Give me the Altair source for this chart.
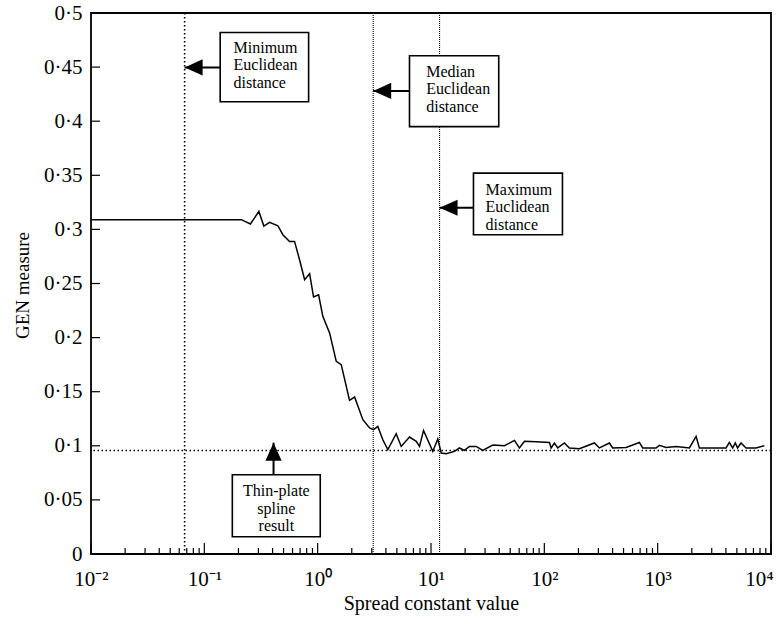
import altair as alt
import pandas as pd

# ---- data ----
spread = [0.01, 0.212, 0.255, 0.303, 0.335, 0.377, 0.446, 0.493, 0.565, 0.625,
          0.692, 0.767, 0.849, 0.920, 1.019, 1.111, 1.274, 1.459, 1.614, 1.911,
          2.117, 2.505, 2.871, 3.112, 3.396, 3.757, 4.16, 4.93, 5.46, 6.46,
          7.41, 7.92, 8.59, 10.37, 11.48, 12.30, 13.61, 16.11, 17.83, 19.73,
          21.86, 25.05, 28.62, 35.1, 44.5, 54.5, 60.3, 66.8, 84.7, 110.9,
          114.8, 122.7, 131.2, 150.3, 166.3, 203.7, 276.5, 306.2, 375.1, 401.0,
          526.3, 689.8, 737.9, 968.3, 1035, 1186, 1452, 1905, 2183, 2333,
          4010, 4289, 4585, 4845, 5070, 5433, 6026, 7379, 8730]
gen = [0.309, 0.309, 0.305, 0.3166, 0.3031, 0.3065, 0.3034, 0.2951, 0.2889, 0.2889,
       0.2720, 0.2535, 0.2591, 0.2375, 0.2396, 0.2196, 0.2043, 0.1780, 0.1750, 0.1420,
       0.1451, 0.1241, 0.1165, 0.1149, 0.1179, 0.1056, 0.0964, 0.1112, 0.0994, 0.1081,
       0.1041, 0.0994, 0.1142, 0.0948, 0.1063, 0.0933, 0.0927, 0.0948, 0.0980, 0.0957,
       0.0994, 0.0994, 0.0957, 0.1007, 0.1001, 0.1050, 0.0980, 0.1041, 0.1038, 0.1031,
       0.0980, 0.1026, 0.0980, 0.1026, 0.0980, 0.0973, 0.1026, 0.0980, 0.1026, 0.0980,
       0.0985, 0.1031, 0.0980, 0.0980, 0.1004, 0.0985, 0.0994, 0.0980, 0.1087, 0.0980,
       0.0980, 0.1031, 0.0980, 0.1026, 0.0980, 0.1026, 0.0980, 0.0980, 0.1001]

thin_plate = 0.0957
min_dist = 0.067
median_dist = 3.09
max_dist = 11.9

y_ticks = [0, 0.05, 0.1, 0.15, 0.2, 0.25, 0.3, 0.35, 0.4, 0.45, 0.5]
x_major = [0.01, 0.1, 1, 10, 100, 1000, 10000]
x_labels = ["10⁻²", "10⁻¹", "10⁰", "10¹", "10²", "10³", "10⁴"]
x_minor = [k * 10 ** e for e in range(-2, 4) for k in range(2, 10)]

# annotation boxes (data coordinates)
box_text = ["Minimum\nEuclidean\ndistance", "Median\nEuclidean\ndistance",
            "Maximum\nEuclidean\ndistance", "Thin-plate\nspline\nresult"]
box_x1 = [0.138, 6.46, 23.7, 0.1766]
box_x2 = [0.832, 39.6, 144.5, 1.054]
box_y1 = [0.482, 0.4605, 0.352, 0.0733]
box_y2 = [0.418, 0.395, 0.295, 0.016]
text_x = [0.181, 9.07, 30.3, 0.432]
text_y = [0.4677, 0.4455, 0.3367, 0.0579]

# horizontal arrows (pointing left)
harrow_tip_x = [min_dist, median_dist, max_dist]
harrow_end_x = [0.138, 6.46, 23.7]
harrow_y = [0.4497, 0.428, 0.320]
# vertical arrow (pointing up)
varrow_x = [0.408]
varrow_tip_y = [0.1029]
varrow_end_y = [0.0733]

FONT = "Liberation Serif, Times New Roman, serif"

xscale = alt.Scale(type="log", domain=[0.01, 10000], nice=False)
yscale = alt.Scale(domain=[0, 0.5], nice=False, zero=False)

label_expr_x = "[" + ",".join("'%s'" % s for s in x_labels) + "][round(log(datum.value)/LN10)+2]"
xaxis = alt.Axis(title="Spread constant value", values=x_major, labelExpr=label_expr_x,
                 ticks=False, domain=False, grid=False, labelFont=FONT, labelFontSize=21,
                 labelColor="black", labelPadding=14, labelOverlap=False, labelFlush=False,
                 labelOffset={"condition": {"test": "datum.value >= 10000", "value": -12}, "value": 0},
                 titleFont=FONT, titleFontSize=20, titleFontWeight="normal",
                 titleColor="black", titlePadding=4)
yaxis = alt.Axis(title="GEN measure", values=y_ticks,
                 labelExpr="replace(format(datum.value, '.2~f'), '.', '·')",
                 ticks=False, domain=False, grid=False, labelFont=FONT, labelFontSize=21,
                 labelColor="black", labelPadding=9, labelOverlap=False, labelFlush=False,
                 titleFont=FONT, titleFontSize=19, titleFontWeight="normal",
                 titleColor="black", titleX=-69, titleY=272, titleBaseline="middle",
                 titleAlign="center")


def X(f):
    return alt.X(f, type="quantitative", scale=xscale, axis=xaxis)


def Y(f):
    return alt.Y(f, type="quantitative", scale=yscale, axis=yaxis)


curve_df = pd.DataFrame({"spread": spread, "gen": gen})
curve = alt.Chart(curve_df).mark_line(color="black", strokeWidth=1.5).encode(
    x=X("spread"), y=Y("gen"))

hline = alt.Chart(pd.DataFrame({"y": [thin_plate]})).mark_rule(
    color="black", strokeWidth=1.6, strokeDash=[1.5, 2.5]).encode(y=Y("y"))

vmin = alt.Chart(pd.DataFrame({"x": [min_dist]})).mark_rule(
    color="black", strokeWidth=1.6, strokeDash=[1.5, 2.5]).encode(x=X("x"))
vmed = alt.Chart(pd.DataFrame({"x": [median_dist, max_dist]})).mark_rule(
    color="black", strokeWidth=1.1, strokeDash=[1, 1]).encode(x=X("x"))

yt = alt.Chart(pd.DataFrame({"y": y_ticks})).mark_rule(color="black", strokeWidth=1.2).encode(
    y=Y("y"), x=alt.value(0), x2=alt.value(9))
xt_major = alt.Chart(pd.DataFrame({"x": x_major})).mark_rule(color="black", strokeWidth=1.2).encode(
    x=X("x"), y=alt.value(541), y2=alt.value(530))
xt_minor = alt.Chart(pd.DataFrame({"x": x_minor})).mark_rule(color="black", strokeWidth=1.2).encode(
    x=X("x"), y=alt.value(541), y2=alt.value(535))

box_df = pd.DataFrame({"x1": box_x1, "x2": box_x2, "y1": box_y1, "y2": box_y2,
                       "t": box_text, "tx": text_x, "ty": text_y})
boxes = alt.Chart(box_df).mark_rect(fill="white", stroke="black", strokeWidth=1.6).encode(
    x=X("x1"), x2="x2", y=Y("y1"), y2="y2")
texts_left = alt.Chart(box_df.iloc[:3]).mark_text(
    align="left", baseline="middle", font=FONT, fontSize=16, lineHeight=17.5,
    lineBreak="\n", color="black").encode(x=X("tx"), y=Y("ty"), text="t")
texts_center = alt.Chart(box_df.iloc[3:]).mark_text(
    align="center", baseline="middle", font=FONT, fontSize=16, lineHeight=17.5,
    lineBreak="\n", color="black").encode(x=X("tx"), y=Y("ty"), text="t")

ha_df = pd.DataFrame({"tip": harrow_tip_x, "end": harrow_end_x, "y": harrow_y})
h_shaft = alt.Chart(ha_df).mark_rule(color="black", strokeWidth=2).encode(
    x=X("tip"), x2="end", y=Y("y"))
h_head = alt.Chart(ha_df).mark_point(
    shape="M0,0L2,-0.9L2,0.9Z", filled=True, fill="black", size=324, opacity=1).encode(
    x=X("tip"), y=Y("y"))

va_df = pd.DataFrame({"x": varrow_x, "tip": varrow_tip_y, "end": varrow_end_y})
v_shaft = alt.Chart(va_df).mark_rule(color="black", strokeWidth=2).encode(
    x=X("x"), y=Y("tip"), y2="end")
v_head = alt.Chart(va_df).mark_point(
    shape="M0,0L-0.9,2L0.9,2Z", filled=True, fill="black", size=324, opacity=1).encode(
    x=X("x"), y=Y("tip"))

chart = alt.layer(
    hline, vmin, vmed, curve, yt, xt_major, xt_minor,
    h_shaft, v_shaft, boxes, h_head, v_head, texts_left, texts_center
).properties(
    width=680, height=541,
    autosize=alt.AutoSizeParams(type="none"),
    padding={"left": 91, "top": 13, "right": 8, "bottom": 64},
    background="white",
).configure_view(stroke="black", strokeWidth=1.8)

chart.save("out.html", embed_options={"renderer": "svg", "actions": False})
